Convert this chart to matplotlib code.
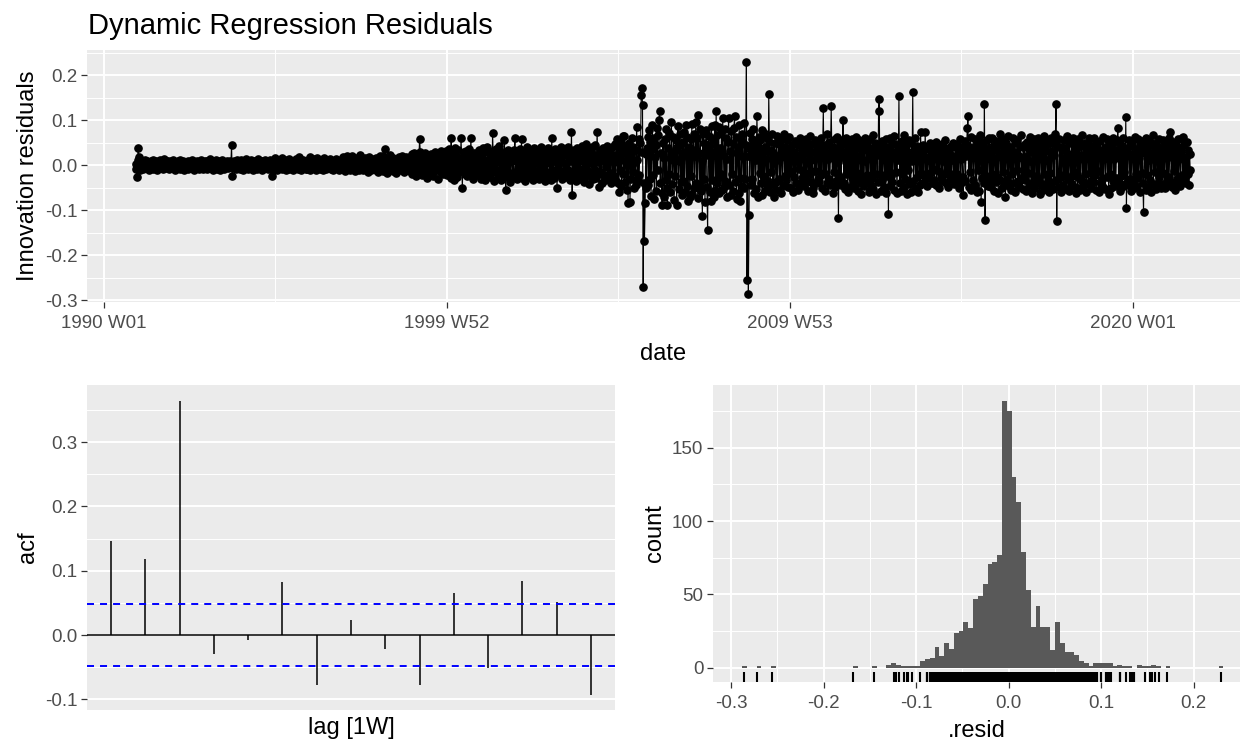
import numpy as np
import matplotlib
matplotlib.use('Agg')
import matplotlib.pyplot as plt
import matplotlib.dates as mdates

plt.rcParams['font.family'] = ['Liberation Sans', 'DejaVu Sans']

# weekly innovation residuals (x1000), one list per year
# first week starts 1990-12-03
r1991 = [2, -8, -26, 12, 38, 18, -12, 4, -6, 9, -3, 7, -9, 5, 11, -4, 2, -7, 8, -2, 6, -11, 3, 10, -5, 1, -8, 12, -3, 5, -6, 9, 0, -10, 7, 3, -4, 11, -7, 2, 6, -9, 4, -2, 13, -5, 8, -1, -6, 10, 3, -8]
r1992 = [5, -7, 9, -3, 1, 12, -6, 4, -10, 7, -2, 3, 8, -5, 0, 11, -8, 6, -4, 2, 9, -12, 5, -1, 7, -6, 3, 10, -9, 4, -3, 6, -7, 1, 12, -4, 8, -10, 2, 5, -6, 9, -2, 4, -8, 7, 0, -5, 11, -3, 6, -9]
r1993 = [-4, 8, -6, 3, 10, -9, 2, 6, -3, 13, -7, 4, -1, 9, -11, 5, 7, -5, 0, 12, -8, 3, -2, 6, -10, 8, 1, -6, 11, -4, 5, -9, 2, 7, -3, 10, -7, 4, -1, 8, -5, 6, 44, -24, 3, -7, 9, -2, 5, -8, 11, -4]
r1994 = [6, -3, 9, -8, 2, 12, -5, 7, -10, 4, 1, -6, 14, -2, 8, -9, 3, 5, -7, 11, -4, 0, 9, -12, 6, -1, 10, -5, 3, -8, 13, -3, 7, -6, 2, 9, -11, 4, 8, -2, -7, 12, -5, 3, 10, -9, 6, -4, 1, 11, -6, -25]
r1995 = [-5, 10, -8, 4, 15, -3, 7, -11, 2, 9, -6, 12, -2, 5, -9, 16, -4, 8, -7, 1, 11, -10, 6, 3, -5, 14, -8, 2, 9, -3, 7, -12, 4, 10, -1, -6, 13, -4, 8, -9, 2, 17, -5, 6, -10, 3, 11, -7, 5, -2, 9, -8]
r1996 = [4, -9, 12, -3, 7, -11, 18, -5, 2, 9, -7, 13, -2, 6, -10, 4, 15, -6, 1, 10, -8, 3, 11, -4, 7, -12, 5, 16, -3, 8, -9, 2, 12, -6, 4, -1, 14, -8, 6, -5, 10, -11, 3, 9, -4, 13, -7, 5, 1, -10, 8, -3]
r1997 = [-6, 11, -9, 5, 17, -4, 8, -13, 3, 21, -7, 10, -2, 14, -11, 6, -5, 19, -8, 2, 12, -14, 7, 4, -9, 16, -3, 9, -12, 5, 22, -6, 1, 13, -10, 8, -4, 15, -7, 3, 11, -15, 6, 18, -5, 9, -11, 2, 14, -8, 7, -3]
r1998 = [8, -12, 15, -5, 10, -16, 4, 19, -8, 12, -3, 7, -14, 20, -6, 35, 5, -11, 9, -18, 13, -4, 6, 22, -10, 3, -7, 16, -13, 8, -2, 14, -17, 11, 2, -9, 18, -6, 10, -12, 5, 21, -8, 4, -15, 12, -3, 17, -10, 7, -5, 13]
r1999 = [-9, 18, -14, 6, 24, -20, 11, -5, 27, -16, 9, -25, 15, 3, -11, 20, 58, 30, -8, 14, -22, 7, 19, -13, 26, -6, 12, -28, 4, 21, -17, 10, -3, 25, -19, 8, 16, -24, 13, -7, 29, -12, 5, 22, -30, 11, -4, 18, -15, 31, 7, -21]
r2000 = [8, -18, 25, -6, 31, -22, 12, -10, 35, -4, 19, -28, 60, 6, -15, 24, -33, 10, 38, -9, 20, -26, 4, 33, -16, 14, -7, 61, 10, -52, 17, -12, 28, -21, 7, 32, -24, 15, -5, 36, -19, 6, 60, -10, 22, -30, 12, 27, -14, 3, -23, 18]
r2001 = [-13, 24, -20, 33, 8, -30, 17, -7, 38, -25, 12, -34, 28, 3, -16, 41, -22, 10, 31, -27, 5, 19, -11, 71, 15, -36, 26, -8, 36, -18, 7, -29, 22, 42, -13, 16, -33, 10, 30, -22, 2, 55, -9, -56, 20, -26, 34, 13, -17, 27, -37, 8]
r2002 = [21, -25, 13, -15, 33, 60, -19, 9, -30, 25, -5, 16, -22, 36, 4, 58, -28, 18, -10, 30, -35, 7, 23, -16, 39, -8, 14, -27, 32, 2, -21, 28, -33, 11, 37, -14, 18, -25, 6, 34, -19, 10, -31, 26, -3, 40, -23, 15, -12, 29, -36, 8]
r2003 = [-16, 30, -26, 13, 37, -21, 5, 24, -33, 60, -12, 19, -28, 9, 35, -18, 26, -52, 15, -6, 32, -23, 11, 41, -30, 7, 22, -14, 36, -27, 3, 28, -20, 39, -10, 16, -34, 23, 8, 73, -67, 13, -22, 33, -16, 27, -36, 5, 38, -25, 18, -8]
r2004 = [27, -32, 16, 42, -19, 10, -37, 30, -7, 46, -25, 20, -13, 36, -42, 8, 26, -21, 39, 2, -30, 22, -10, 44, -28, 14, 73, 6, -19, -48, 33, -15, 25, -41, 12, 37, -23, 18, -33, 31, -5, 43, -29, 10, 35, -17, 27, -39, 16, 40, -22, 7]
r2005 = [-28, 46, -35, 22, 58, -41, 15, -60, 38, -12, 51, -47, 27, 64, -20, 65, -38, 9, 43, -55, 31, -85, 18, 49, -82, 25, -30, 61, -16, 40, -52, 34, 6, -44, 85, 12, -36, 57, -23, 48, 30, 155, 171, 133, -272, -40, -168, -85, 24, -50, 37, 62]
r2006 = [-45, 78, -30, 52, -68, 35, 90, -22, 61, -75, 18, 44, -58, 83, -12, 66, 100, 120, -40, 27, -63, -88, 49, 15, -71, 58, -34, 80, -50, -88, 37, -19, 72, -60, 24, 95, -43, 11, 63, -77, 31, -25, 56, -88, 40, 86, -54, 8, 69, -38, 47, -66]
r2007 = [52, -36, 74, -59, 28, 88, -47, 63, -80, 15, 41, -70, 57, -25, 92, -64, 33, 70, -52, 19, 95, -39, 60, -74, 111, 26, -45, 81, -58, 12, -113, 68, -30, 50, -83, 36, 77, -49, -145, 22, 65, -61, 44, -80, 86, -33, 58, -72, 29, 90, -55, 120]
r2008 = [-40, 66, -28, 84, -62, 37, -19, 71, -55, 105, 23, -48, 79, -35, 60, -70, 14, 52, 105, -44, 31, -66, 75, -21, 48, -58, 83, 109, -37, 62, -75, 26, 41, -63, 88, -29, -80, 54, -46, 70, 17, -52, 93, -30, 45, 229, -256, 20, -286, -110, 35, 72]
r2009 = [-45, 58, -30, 81, -62, 24, 47, -53, 12, 109, 36, -70, 63, -18, 55, -41, 77, -66, 29, -24, 71, -57, 40, 14, -48, 60, -35, 158, 52, -60, 33, -15, 69, -44, 26, -72, 50, 8, -38, 65, -55, 21, 46, -30, 58, -63, 18, 39, -47, 30, 68, -25]
r2010 = [41, -33, 56, -20, 27, -48, 62, -14, 35, -52, 19, 44, -60, 30, -26, 53, -39, 11, 48, -55, 23, -9, 60, -42, 37, -28, 15, 50, -46, 26, -17, 58, -34, 8, 43, -58, 32, -21, 64, -37, 12, 46, -50, -62, 29, -13, 55, -40, 20, 38, -31, 52]
r2011 = [-36, 48, -22, 60, -51, 33, 127, -18, 44, -57, 25, -40, 68, 14, -30, 52, -45, 37, 131, 22, -63, 41, -15, 58, -48, 29, -35, 63, 7, -118, 40, -26, 55, -44, 18, 47, 100, -39, 26, -54, 61, -21, 35, -60, 50, -12, 43, -49, 31, -28, 57, -37]
r2012 = [24, -52, 46, -31, 63, -18, 38, -58, 21, 55, -40, 12, -65, 49, -27, 34, -47, 60, 9, -36, 52, -22, 41, -61, 28, 57, -44, 16, -29, 66, -53, 35, -19, 48, -65, 23, 44, -38, 120, 147, -20, 31, -57, 54, -33, 15, 42, -48, 27, -63, 58, -25]
r2013 = [40, -109, 33, -46, 61, -24, 50, -37, 19, 64, -55, 28, -15, 47, -62, 36, 12, 153, -41, 25, -58, 53, -20, 39, -49, 67, -30, 18, 45, -64, 31, -11, 56, -43, 22, -59, 49, 8, 162, -35, 27, 60, -52, 14, -26, 43, -61, 37, 20, -45, 73, -18]
r2014 = [31, -22, 45, -38, 17, 73, -29, 40, -47, 12, 35, -26, 50, -18, 28, -41, 22, -9, 44, -33, 15, 52, -44, 26, -14, 38, -50, 19, 33, -27, 47, -36, 8, 41, -20, 55, -39, 24, -12, 36, -48, 29, 16, -31, 43, -23, 11, 48, -42, 21, -17, 39]
r2015 = [-30, 47, -19, 36, -52, 25, 58, -41, 14, 40, -27, -67, 33, 53, -36, 21, 45, 83, 109, -48, 30, -16, 62, -55, 27, 41, -33, 18, 57, -44, 24, -61, 49, -12, 35, -58, 66, 20, -83, 43, -29, 52, -40, 135, -122, 38, -24, 55, -47, 15, 61, -35]
r2016 = [26, -49, 60, -21, 42, -58, 33, 15, -38, 54, -26, 47, -63, 29, 69, -34, 18, -52, 45, -15, 58, -44, 31, -70, 50, 22, -31, 64, -47, 13, 40, -56, 35, -19, 61, -40, 24, 48, -60, 30, -11, 55, -36, 20, -49, 43, 67, -28, 16, -54, 39, -24]
r2017 = [47, -33, 21, -57, 52, -18, 38, -46, 63, 10, -40, 29, -62, 44, -25, 57, -51, 34, 17, -38, 60, -29, 41, -64, 26, 50, -43, 14, -55, 65, -21, 36, -48, 53, 12, -34, 46, -60, 28, -17, 59, -42, 31, 48, -53, 23, -36, 70, 135, -124, 42, -30]
r2018 = [-49, 58, -27, 40, -61, 33, 16, -44, 55, -20, 37, -53, 64, -32, 25, -58, 48, 9, -39, 52, -24, 61, -47, 30, -15, 45, -62, 36, 19, -50, 57, -29, 42, -55, 23, 66, -36, 14, -45, 50, -21, 34, -59, 47, 27, -41, 60, -18, 38, -52, 29, -33]
r2019 = [44, -37, 59, -22, 31, -56, 48, -14, 36, -60, 25, 53, -42, 18, -31, 62, -48, 27, 40, -53, 15, 57, -26, 34, -64, 46, -19, 38, -51, 22, 60, -35, 13, -46, 51, -28, 33, 55, 83, -40, 20, -58, 45, -24, 37, -49, 61, -16, 29, -43, 106, -96]
r2020 = [38, -45, 27, 56, -31, 42, -58, 19, 50, -36, 24, -52, 63, -20, 35, -47, 58, -28, 15, 44, -61, 30, -17, 53, -39, -104, 41, 26, -55, 60, -23, 37, -48, 12, 54, -34, 45, -60, 21, 66, -42, 29, -15, 49, -53, 33, 18, -40, 57, -26, 41, -50]
r2021 = [30, -42, 55, -18, 37, -51, 24, 48, -33, 16, -45, 59, -26, 41, 73, -37, 20, -49, 52, -14, 34, -56, 45, 22, -30, 57, -41, 13, 38, -47, 27, 60, -22, 63, -35, 46, -28, 17, -40, 51, -19, 33, -44, 25, -10]

# ACF of the residuals, lags 1-15
acf_vals = [0.147, 0.119, 0.364, -0.030, -0.007, 0.082, -0.077, 0.023,
            -0.022, -0.077, 0.066, -0.051, 0.084, 0.052, -0.093]
acf_bound = 0.0485

# histogram of residuals
hist_start = -0.288
hist_width = 0.0052
hist_counts = [1, 0, 0, 1, 0, 0, 1, 0, 0, 0,
               0, 0, 0, 0, 0, 0, 0, 0, 0, 0,
               0, 0, 0, 1, 0, 0, 0, 1, 0, 0,
               2, 3, 2, 1, 1, 1, 1, 5, 6, 7,
               14, 8, 17, 13, 24, 25, 31, 27, 47, 49,
               57, 71, 72, 77, 182, 175, 130, 113, 79, 53,
               28, 42, 28, 28, 12, 31, 17, 11, 11, 9,
               5, 3, 1, 3, 3, 3, 3, 1, 2, 1,
               1, 0, 2, 1, 1, 2, 1, 0, 1, 0,
               0, 0, 0, 0, 0, 0, 0, 0, 0, 1]

resid = np.concatenate([r1991, r1992, r1993, r1994, r1995, r1996, r1997, r1998,
                        r1999, r2000, r2001, r2002, r2003, r2004, r2005, r2006,
                        r2007, r2008, r2009, r2010, r2011, r2012, r2013, r2014,
                        r2015, r2016, r2017, r2018, r2019, r2020, r2021]) / 1000.0
weeks = np.datetime64('1990-12-03') + np.arange(len(resid)) * np.timedelta64(7, 'D')
xw = mdates.date2num(weeks)

W, H = 1243, 750
TICK_C = '#4D4D4D'


def gg_style(ax):
    ax.set_facecolor('#EBEBEB')
    for s in ax.spines.values():
        s.set_visible(False)
    ax.set_axisbelow(True)
    ax.grid(which='major', color='white', lw=1.4)
    ax.grid(which='minor', color='white', lw=0.7)
    ax.tick_params(which='major', length=4, width=0.9, color='#333333',
                   labelcolor=TICK_C, labelsize=13.5, pad=3)
    ax.tick_params(axis='x', which='major', pad=5)
    ax.tick_params(which='minor', length=0)


def px_axes(l, t, r, b):
    return fig.add_axes([l / W, 1 - b / H, (r - l) / W, (b - t) / H])


fig = plt.figure(figsize=(W / 100, H / 100), dpi=100)

# ---- top: residual series
ax1 = px_axes(87, 50, 1240, 302)
gg_style(ax1)
ax1.plot(xw, resid, color='black', lw=0.8, marker='o', ms=5.2, zorder=3)
major_d = mdates.date2num(np.array(['1990-01-01', '1999-12-27', '2009-12-28', '2019-12-30'],
                                   dtype='datetime64[D]'))
ax1.set_xticks(major_d)
ax1.set_xticklabels(['1990 W01', '1999 W52', '2009 W53', '2020 W01'])
ax1.set_xticks((major_d[:-1] + major_d[1:]) / 2, minor=True)
ax1.set_xlim(mdates.date2num(np.datetime64('1989-07-04')),
             mdates.date2num(np.datetime64('2023-02-11')))
ax1.set_yticks(np.arange(-0.3, 0.21, 0.1))
ax1.set_yticklabels(['-0.3', '-0.2', '-0.1', '0.0', '0.1', '0.2'])
ax1.set_yticks(np.arange(-0.25, 0.26, 0.1), minor=True)
ax1.set_ylim(-0.3044, 0.2556)
ax1.set_xlabel('date', fontsize=17, labelpad=8)
ax1.set_ylabel('Innovation residuals', fontsize=17, labelpad=4)
fig.text(88 / W, 1 - 34 / H, 'Dynamic Regression Residuals', fontsize=21,
         ha='left', va='baseline')

# ---- bottom left: ACF
ax2 = px_axes(87, 385, 615, 710)
gg_style(ax2)
lags = np.arange(1, len(acf_vals) + 1)
ax2.vlines(lags, 0, acf_vals, color='black', lw=1.1)
ax2.axhline(0, color='black', lw=1.1)
for b in (acf_bound, -acf_bound):
    ax2.axhline(b, color='#0000FF', lw=1.4, ls=(0, (3.6, 3.1)))
ax2.set_xlim(0.3, 15.7)
ax2.set_ylim(-0.1166, 0.389)
ax2.set_xticks([])
ax2.grid(axis='x', which='both', visible=False)
ax2.set_yticks([-0.1, 0.0, 0.1, 0.2, 0.3])
ax2.set_yticklabels(['-0.1', '0.0', '0.1', '0.2', '0.3'])
ax2.set_yticks(np.arange(-0.05, 0.36, 0.1), minor=True)
ax2.set_xlabel('lag [1W]', fontsize=17, labelpad=5)
ax2.set_ylabel('acf', fontsize=17, labelpad=4)

# ---- bottom right: histogram with rug
ax3 = px_axes(713, 385, 1240, 682)
gg_style(ax3)
lefts = hist_start + hist_width * np.arange(len(hist_counts))
ax3.bar(lefts, hist_counts, width=hist_width, align='edge', color='#595959',
        lw=0, zorder=2)
ax3.vlines(resid, 0, 0.034, transform=ax3.get_xaxis_transform(), color='black',
           lw=1.5, zorder=3)
ax3.set_xlim(-0.3194, 0.249)
ax3.set_ylim(-9.6, 192.6)
ax3.set_xticks([-0.3, -0.2, -0.1, 0.0, 0.1, 0.2])
ax3.set_xticklabels(['-0.3', '-0.2', '-0.1', '0.0', '0.1', '0.2'])
ax3.set_xticks([-0.25, -0.15, -0.05, 0.05, 0.15, 0.25], minor=True)
ax3.set_yticks([0, 50, 100, 150])
ax3.set_yticks([25, 75, 125, 175], minor=True)
ax3.set_xlabel('.resid', fontsize=17, labelpad=6)
ax3.set_ylabel('count', fontsize=17, labelpad=4)

fig.savefig('out.png', dpi=100)
